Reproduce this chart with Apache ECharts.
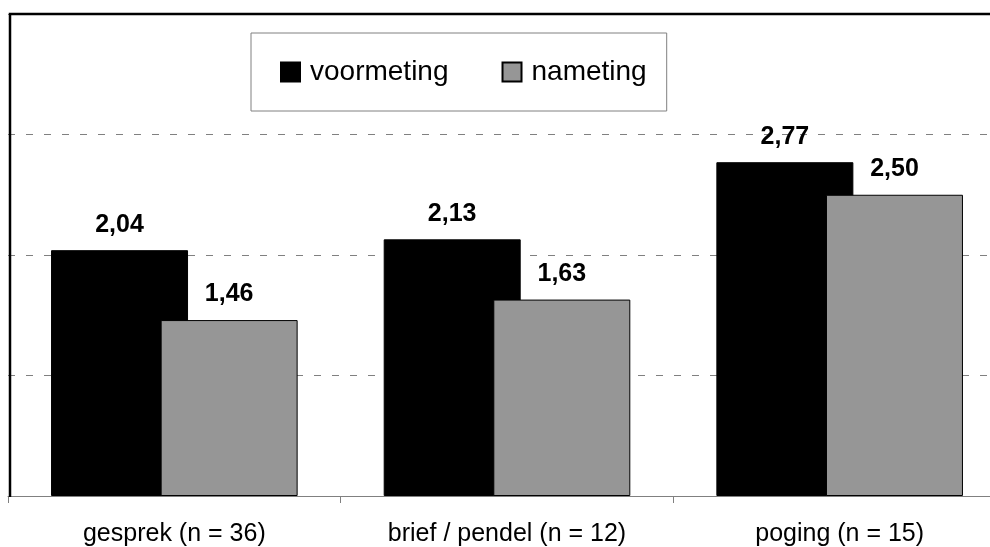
<!DOCTYPE html>
<html>
<head>
<meta charset="utf-8">
<script src="https://cdn.jsdelivr.net/npm/echarts@6/dist/echarts.min.js"></script>
<style>
html,body{margin:0;padding:0;background:#fff;overflow:hidden;width:990px;height:547px;}
#chart{width:1010px;height:547px;}
</style>
</head>
<body>
<div id="chart"></div>
<script>
const categories = ['gesprek (n = 36)', 'brief / pendel (n = 12)', 'poging (n = 15)'];
const seriesNames = ['voormeting', 'nameting'];
const voormeting = [2.04, 2.13, 2.77];
const nameting = [1.46, 1.63, 2.50];
const yMin = 0, yMax = 4, yInterval = 1;

const FONT = '"Liberation Sans", Arial, Helvetica, sans-serif';
const fmt = p => p.value.toFixed(2).replace('.', ',');

const chart = echarts.init(document.getElementById('chart'), null, {renderer: 'canvas'});
chart.setOption({
  backgroundColor: '#ffffff',
  animation: false,
  textStyle: {fontFamily: FONT},
  grid: {left: 8, top: 14, right: 4, bottom: 50, containLabel: false},
  legend: {
    left: 251, top: 33,
    orient: 'horizontal',
    itemWidth: 19, itemHeight: 19,
    itemGap: 53,
    padding: [25, 20, 25, 29],
    borderColor: '#808080', borderWidth: 1,
    backgroundColor: '#ffffff',
    icon: 'rect',
    textStyle: {fontFamily: FONT, fontSize: 28, color: '#000', padding: [0, 0, 0, 5]},
    data: seriesNames
  },
  xAxis: {
    type: 'category',
    data: categories,
    axisLine: {show: true, lineStyle: {color: '#808080', width: 1}},
    axisTick: {show: true, length: 7, lineStyle: {color: '#808080'}},
    axisLabel: {fontFamily: FONT, fontSize: 25, color: '#000', margin: 26, interval: 0},
    splitLine: {show: false}
  },
  yAxis: {
    type: 'value',
    min: yMin, max: yMax, interval: yInterval,
    axisLine: {show: false},
    axisTick: {show: false},
    axisLabel: {show: false},
    splitLine: {show: true, lineStyle: {color: '#808080', width: 1, type: [7, 11]}}
  },
  series: [
    {
      name: seriesNames[0], type: 'bar', data: voormeting,
      barWidth: 137, barGap: '-20%',
      itemStyle: {color: '#000000', borderColor: '#000000', borderWidth: 1},
      label: {show: true, position: 'top', distance: 13, formatter: fmt,
        fontFamily: FONT, fontSize: 25, fontWeight: 'bold', color: '#000'}
    },
    {
      name: seriesNames[1], type: 'bar', data: nameting,
      barWidth: 137, barGap: '-20%',
      itemStyle: {color: '#969696', borderColor: '#000000', borderWidth: 1},
      label: {show: true, position: 'top', distance: 13, formatter: fmt,
        fontFamily: FONT, fontSize: 25, fontWeight: 'bold', color: '#000'}
    }
  ],
  graphic: [
    {type: 'polyline', silent: true, z: 100,
     shape: {points: [[10, 497], [10, 14], [1010, 14]]},
     style: {stroke: '#000', lineWidth: 2.5, fill: null}}
  ]
});
</script>
</body>
</html>
